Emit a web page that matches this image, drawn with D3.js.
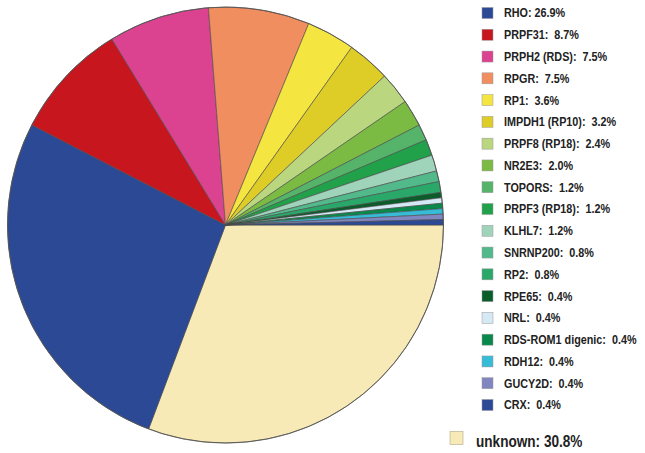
<!DOCTYPE html>
<html>
<head>
<meta charset="utf-8">
<script src="https://cdn.jsdelivr.net/npm/d3@7"></script>
<style>
  html, body { margin: 0; padding: 0; background: #fff; }
  svg { display: block; }
</style>
</head>
<body>
<svg id="chart" width="645" height="453"></svg>
<script>
// ---- data (clockwise from 3 o'clock) ----
const genes = ["unknown", "RHO", "PRPF31", "PRPH2 (RDS)", "RPGR", "RP1", "IMPDH1 (RP10)", "PRPF8 (RP18)",
  "NR2E3", "TOPORS", "PRPF3 (RP18)", "KLHL7", "SNRNP200", "RP2", "RPE65", "NRL",
  "RDS-ROM1 digenic", "RDH12", "GUCY2D", "CRX"];
const percents = [30.8, 26.9, 8.7, 7.5, 7.5, 3.6, 3.2, 2.4, 2.0, 1.2, 1.2, 1.2, 0.8, 0.8, 0.4, 0.4, 0.4, 0.4, 0.4, 0.4];
const colors = ["#f7eab6", "#2c4996", "#c8161f", "#db4390", "#f08e60", "#f5e541", "#dfcd27", "#bad67f",
  "#7cbb43", "#56b36a", "#21a149", "#9fd4ba", "#52b98b", "#2aa86a", "#0b5c2b", "#d5e9f4",
  "#08884a", "#36bcd6", "#7f86c0", "#2c4996"];
// legend text (as printed)
const legendLabels = ["RHO: 26.9%", "PRPF31:  8.7%", "PRPH2 (RDS):  7.5%", "RPGR:  7.5%", "RP1:  3.6%",
  "IMPDH1 (RP10):  3.2%", "PRPF8 (RP18):  2.4%", "NR2E3:  2.0%", "TOPORS:  1.2%", "PRPF3 (RP18):  1.2%",
  "KLHL7:  1.2%", "SNRNP200:  0.8%", "RP2:  0.8%", "RPE65:  0.4%", "NRL:  0.4%",
  "RDS-ROM1 digenic:  0.4%", "RDH12:  0.4%", "GUCY2D:  0.4%", "CRX:  0.4%"];
const unknownLabel = "unknown: 30.8%";

const svg = d3.select("#chart");
const cx = 225.5, cy = 225, R = 218;

const data = genes.map((g, i) => ({ gene: g, value: percents[i], color: colors[i] }));

const pie = d3.pie().sort(null).value(d => d.value)
  .startAngle(Math.PI / 2).endAngle(Math.PI / 2 + 2 * Math.PI);
const arc = d3.arc().innerRadius(0).outerRadius(R);

const g = svg.append("g").attr("transform", `translate(${cx},${cy})`);
g.selectAll("path").data(pie(data)).join("path")
  .attr("d", arc)
  .attr("fill", d => d.data.color)
  .attr("stroke", "#4a4a4a")
  .attr("stroke-width", 0.6)
  .attr("stroke-linejoin", "round");
g.append("circle").attr("r", R).attr("fill", "none").attr("stroke", "#555").attr("stroke-width", 0.9);

// ---- legend ----
const legendData = data.slice(1);
const ly = d3.scaleLinear().domain([0, legendData.length - 1]).range([13, 405]);
const lg = svg.append("g");
const rows = lg.selectAll("g.row").data(legendData).join("g")
  .attr("class", "row")
  .attr("transform", (d, i) => `translate(482,${ly(i)})`);
rows.append("rect")
  .attr("x", 0).attr("y", -5.5).attr("width", 11).attr("height", 11)
  .attr("fill", d => d.color)
  .attr("stroke", "#9a9a9a").attr("stroke-width", 0.5);
rows.append("text")
  .attr("transform", "translate(22,4.4) scale(0.9,1)")
  .attr("font-family", "'Liberation Sans', Arial, sans-serif")
  .attr("font-weight", "bold")
  .attr("font-size", 12)
  .attr("fill", "#222")
  .style("white-space", "pre")
  .attr("xml:space", "preserve")
  .text((d, i) => legendLabels[i]);

// unknown legend
const ug = svg.append("g").attr("transform", "translate(450,438)");
ug.append("rect").attr("x", 0).attr("y", -6.5).attr("width", 13).attr("height", 13)
  .attr("fill", data[0].color).attr("stroke", "#b0a98a").attr("stroke-width", 0.6);
ug.append("text")
  .attr("transform", "translate(26,8.5) scale(0.85,1)")
  .attr("font-family", "'Liberation Sans', Arial, sans-serif")
  .attr("font-weight", "bold")
  .attr("font-size", 16)
  .attr("fill", "#222")
  .text(unknownLabel);
</script>
</body>
</html>
